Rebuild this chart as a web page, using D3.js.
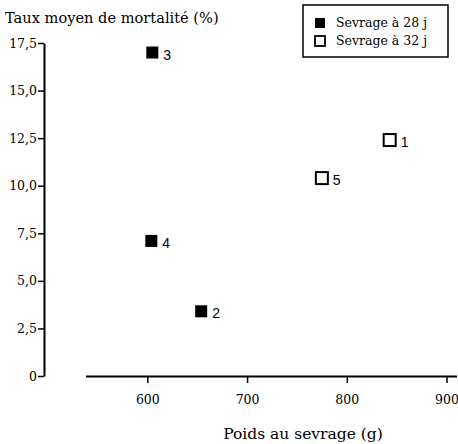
<!DOCTYPE html>
<html>
<head>
<meta charset="utf-8">
<script src="https://cdn.jsdelivr.net/npm/d3@7"></script>
<style>
  body { margin: 0; background: #fff; }
  svg { display: block; }
</style>
</head>
<body>
<svg id="chart" width="458" height="444"></svg>
<script>
// data
const lots = ["1", "2", "3", "4", "5"];
const poids = [843, 654, 605, 604, 775];          // g
const mortalite = [12.4, 3.4, 17.0, 7.1, 10.4];    // %
const sevrage = [32, 28, 28, 28, 32];              // jours
const xTicks = [600, 700, 800, 900];
const yTicks = [0, 2.5, 5, 7.5, 10, 12.5, 15, 17.5];
const legendItems = ["Sevrage à 28 j", "Sevrage à 32 j"];

const points = lots.map((l, i) => ({ lot: l, x: poids[i], y: mortalite[i], s: sevrage[i] }));

const svg = d3.select("#chart");
const serif = "'DejaVu Serif', serif";
const sans = "'Liberation Sans', Arial, sans-serif";

const x = d3.scaleLinear().domain([538, 910]).range([85.5, 456.5]);
const y = d3.scaleLinear().domain([0, 17.5]).range([376, 43]);

const fmt = d => d === 0 ? "0" : d.toFixed(1).replace(".", ",");

// y axis
const gy = svg.append("g")
  .attr("transform", "translate(44,0)")
  .call(d3.axisLeft(y).tickValues(yTicks).tickFormat(fmt).tickSize(6).tickSizeOuter(0).tickPadding(1));
gy.select(".domain").attr("stroke-width", 2);
gy.selectAll(".tick line").attr("stroke-width", 1.5);
gy.selectAll("text").attr("font-family", serif).attr("font-size", 12.5).attr("fill", "#000");

// x axis
const gx = svg.append("g")
  .attr("transform", "translate(0,376)")
  .call(d3.axisBottom(x).tickValues(xTicks).tickSize(7).tickSizeOuter(0).tickPadding(12));
gx.select(".domain").attr("stroke-width", 2);
gx.selectAll(".tick line").attr("stroke-width", 1.5);
gx.selectAll("text").attr("font-family", serif).attr("font-size", 12.5).attr("fill", "#000");

// titles
svg.append("text")
  .attr("x", 5).attr("y", 23)
  .attr("font-family", serif).attr("font-size", 14.6)
  .text("Taux moyen de mortalité (%)");

svg.append("text")
  .attr("x", 303).attr("y", 439)
  .attr("text-anchor", "middle")
  .attr("font-family", serif).attr("font-size", 15.5)
  .text("Poids au sevrage (g)");

// points
const sz = 12;
const g = svg.append("g");
g.selectAll("rect")
  .data(points)
  .join("rect")
  .attr("x", d => x(d.x) - sz / 2)
  .attr("y", d => y(d.y) - sz / 2)
  .attr("width", sz).attr("height", sz)
  .attr("fill", d => d.s === 28 ? "#000" : "#fff")
  .attr("stroke", "#000")
  .attr("stroke-width", d => d.s === 28 ? 0 : 2);

g.selectAll("text")
  .data(points)
  .join("text")
  .attr("x", d => x(d.x) + 11)
  .attr("y", d => y(d.y) + 7)
  .attr("font-family", sans).attr("font-size", 14)
  .text(d => d.lot);

// legend
const lg = svg.append("g");
lg.append("rect")
  .attr("x", 303).attr("y", 5).attr("width", 145).attr("height", 52)
  .attr("fill", "#fff").attr("stroke", "#000").attr("stroke-width", 1.5);
legendItems.forEach((t, i) => {
  const cy = 23 + i * 18;
  lg.append("rect")
    .attr("x", 315).attr("y", cy - 5).attr("width", 10).attr("height", 10)
    .attr("fill", i === 0 ? "#000" : "#fff")
    .attr("stroke", "#000").attr("stroke-width", i === 0 ? 0 : 1.8);
  lg.append("text")
    .attr("x", 336).attr("y", cy + 4)
    .attr("font-family", serif).attr("font-size", 12.5)
    .text(t);
});
</script>
</body>
</html>
